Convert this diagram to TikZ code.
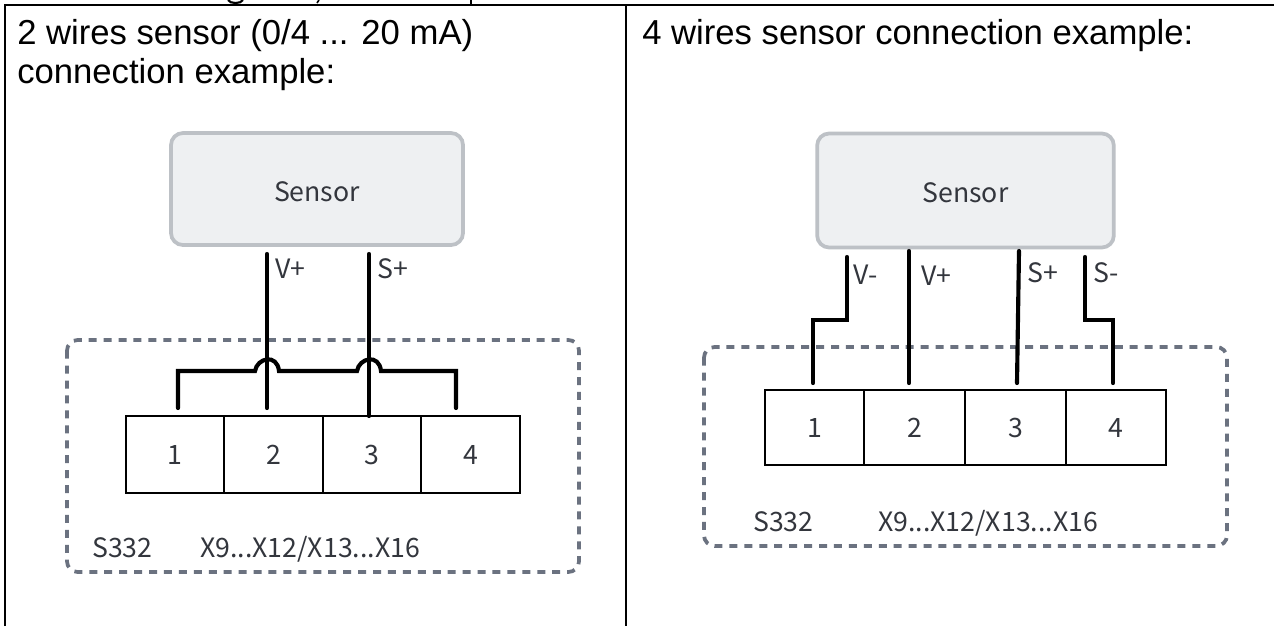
\documentclass[tikz,border=0pt]{standalone}
\usepackage{fontspec}
\setmainfont{Liberation Sans}
\newfontfamily\diagfont{Noto Sans CJK SC}
\definecolor{senfill}{HTML}{EEF0F2}
\definecolor{senline}{HTML}{BDC1C6}
\definecolor{dashcol}{HTML}{6B7280}
\definecolor{txtcol}{HTML}{33363D}
\tikzset{
  x=0.75pt,y=-0.75pt,
  frameline/.style={line width=1.8pt,black},
  sensorbox/.style={draw=senline,fill=senfill,line width=2.8pt,rounded corners=9pt},
  groupbox/.style={draw=dashcol,line width=2.8pt,rounded corners=8pt,dash pattern=on 6pt off 5.2pt},
  wire/.style={draw=black,line width=3.1pt,line cap=round,line join=miter},
  termcell/.style={draw=black,line width=1.5pt,fill=white},
  head/.style={anchor=base west,inner sep=0pt,font=\fontsize{26}{26}\selectfont,text=black},
  dlabel/.style={inner sep=0pt,font=\diagfont\fontsize{20}{20}\selectfont,text=txtcol},
  llabel/.style={anchor=base west,inner sep=0pt,font=\diagfont\fontsize{20}{20}\selectfont,text=txtcol}
}
\begin{document}
\begin{tikzpicture}
\useasboundingbox (0,0) rectangle (1274,626);
\fill[white] (0,0) rectangle (1274,626);
% cropped text remnants above the frame
\draw[line width=1.6pt,black] (228,0) .. controls (230,4) and (241,4) .. (243,0);
\draw[line width=1.2pt,black] (319,0) -- (317,3);
\draw[line width=1.2pt,black] (471,0) -- (471,5);
% frame
\coordinate (ftl) at (5,5); \coordinate (fbl) at (5,626);
\coordinate (ftm) at (626,5); \coordinate (fbm) at (626,626);
\coordinate (ftr) at (1274,5);
\draw[frameline] (fbl) -- (ftl) -- (ftr);
\draw[frameline] (ftm) -- (fbm);
% headings
\node[head] (h1a) at (17,44) {2 wires sensor (0/4 ... 20 mA)};
\node[head] (h1b) at (17,83) {connection example:};
\node[head] (h2) at (642,44) {4 wires sensor connection example:};
% LEFT
\draw[groupbox] (67,340) rectangle (579,572);
\node[sensorbox,minimum width=219pt,minimum height=84pt,inner sep=0pt,dlabel] (lsensor) at (317,189) {\raisebox{-9.5pt}[0pt][0pt]{Sensor}};
\node[termcell,minimum width=73.9pt,minimum height=57.7pt,inner sep=0pt,dlabel] (l1) at (175,454.5) {1};
\node[termcell,minimum width=74.2pt,minimum height=57.7pt,inner sep=0pt,dlabel] (l2) at (273.5,454.5) {2};
\node[termcell,minimum width=73.5pt,minimum height=57.7pt,inner sep=0pt,dlabel] (l3) at (372,454.5) {3};
\node[termcell,minimum width=74.2pt,minimum height=57.7pt,inner sep=0pt,dlabel] (l4) at (470.5,454.5) {4};
\coordinate (lv1) at (267,254); \coordinate (lv2) at (267,408);
\coordinate (ls1) at (369,254); \coordinate (ls2) at (369,416);
\draw[wire] (lv1) -- (lv2);
\draw[wire] (ls1) -- (ls2);
\coordinate (lj1) at (178,408); \coordinate (lj4) at (456,408);
\draw[wire] (lj1) -- (178,371) -- (255,371) .. controls (257,358) and (277,353) .. (279,371)
  -- (357,371) .. controls (359,358) and (379,353) .. (381,371) -- (456,371) -- (lj4);
\node[llabel] (lvp) at (275,278) {V+};
\node[llabel] (lsp) at (377,278) {S+};
\node[llabel] (ls332) at (92,557) {S332};
\node[llabel] (lx) at (200,557) {X9...X12/X13...X16};
% RIGHT
\draw[groupbox] (704,347) rectangle (1227,546);
\node[sensorbox,minimum width=222.5pt,minimum height=85.5pt,inner sep=0pt,dlabel] (rsensor) at (965.5,190.5) {\raisebox{-9.2pt}[0pt][0pt]{Sensor}};
\node[termcell,minimum width=74.2pt,minimum height=56.5pt,inner sep=0pt,dlabel] (r1) at (814.5,427.5) {1};
\node[termcell,minimum width=75.7pt,minimum height=56.5pt,inner sep=0pt,dlabel] (r2) at (914.5,427.5) {2};
\node[termcell,minimum width=75.7pt,minimum height=56.5pt,inner sep=0pt,dlabel] (r3) at (1015.5,427.5) {3};
\node[termcell,minimum width=75pt,minimum height=56.5pt,inner sep=0pt,dlabel] (r4) at (1116,427.5) {4};
\coordinate (rv1) at (847,257); \coordinate (rv2) at (813,383);
\coordinate (rp1) at (909,251); \coordinate (rp2) at (909,383);
\coordinate (rs1) at (1019,251); \coordinate (rs2) at (1017,383);
\coordinate (rn1) at (1085,257); \coordinate (rn2) at (1113,383);
\draw[wire] (rv1) -- (847,320) -- (813,320) -- (rv2);
\draw[wire] (rp1) -- (rp2);
\draw[wire] (rs1) -- (rs2);
\draw[wire] (rn1) -- (1085,320) -- (1113,320) -- (rn2);
\node[llabel] (rvm) at (853,284) {V-};
\node[llabel] (rvp) at (921,285) {V+};
\node[llabel] (rsp) at (1027,282) {S+};
\node[llabel] (rsm) at (1093,282) {S-};
\node[llabel] (rs332) at (753,531) {S332};
\node[llabel] (rx) at (878,531) {X9...X12/X13...X16};
\end{tikzpicture}
\end{document}
